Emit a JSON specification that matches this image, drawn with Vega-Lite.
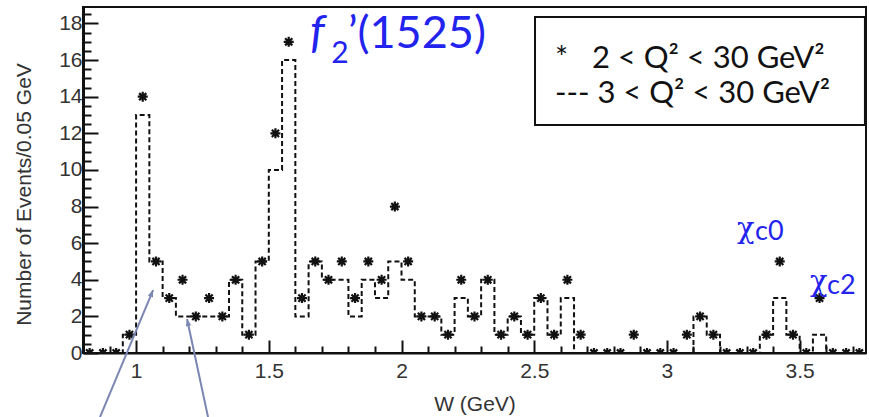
{
  "$schema": "https://vega.github.io/schema/vega-lite/v6.json",
  "width": 783,
  "height": 346,
  "autosize": {"type": "none"},
  "padding": {"left": 83, "top": 7, "right": 3, "bottom": 64},
  "background": "white",
  "config": {"view": {"stroke": "#111", "strokeWidth": 2}, "axis": {"grid": false}},
  "datasets": {
    "hist": [
      {"W": 0.825, "n2": 0, "n3": 0}, {"W": 0.875, "n2": 0, "n3": 0}, {"W": 0.925, "n2": 0, "n3": 0},
      {"W": 0.975, "n2": 1, "n3": 1}, {"W": 1.025, "n2": 14, "n3": 13}, {"W": 1.075, "n2": 5, "n3": 5},
      {"W": 1.125, "n2": 3, "n3": 3}, {"W": 1.175, "n2": 4, "n3": 2}, {"W": 1.225, "n2": 2, "n3": 2},
      {"W": 1.275, "n2": 3, "n3": 2}, {"W": 1.325, "n2": 2, "n3": 2}, {"W": 1.375, "n2": 4, "n3": 4},
      {"W": 1.425, "n2": 1, "n3": 1}, {"W": 1.475, "n2": 5, "n3": 5}, {"W": 1.525, "n2": 12, "n3": 10},
      {"W": 1.575, "n2": 17, "n3": 16}, {"W": 1.625, "n2": 3, "n3": 2}, {"W": 1.675, "n2": 5, "n3": 5},
      {"W": 1.725, "n2": 4, "n3": 4}, {"W": 1.775, "n2": 5, "n3": 4}, {"W": 1.825, "n2": 3, "n3": 2},
      {"W": 1.875, "n2": 5, "n3": 4}, {"W": 1.925, "n2": 4, "n3": 3}, {"W": 1.975, "n2": 8, "n3": 5},
      {"W": 2.025, "n2": 5, "n3": 4}, {"W": 2.075, "n2": 2, "n3": 2}, {"W": 2.125, "n2": 2, "n3": 2},
      {"W": 2.175, "n2": 1, "n3": 1}, {"W": 2.225, "n2": 4, "n3": 3}, {"W": 2.275, "n2": 2, "n3": 2},
      {"W": 2.325, "n2": 4, "n3": 4}, {"W": 2.375, "n2": 1, "n3": 1}, {"W": 2.425, "n2": 2, "n3": 2},
      {"W": 2.475, "n2": 1, "n3": 1}, {"W": 2.525, "n2": 3, "n3": 3}, {"W": 2.575, "n2": 1, "n3": 1},
      {"W": 2.625, "n2": 4, "n3": 3}, {"W": 2.675, "n2": 1, "n3": 0}, {"W": 2.725, "n2": 0, "n3": 0},
      {"W": 2.775, "n2": 0, "n3": 0}, {"W": 2.825, "n2": 0, "n3": 0}, {"W": 2.875, "n2": 1, "n3": 0},
      {"W": 2.925, "n2": 0, "n3": 0}, {"W": 2.975, "n2": 0, "n3": 0}, {"W": 3.025, "n2": 0, "n3": 0},
      {"W": 3.075, "n2": 1, "n3": 0}, {"W": 3.125, "n2": 2, "n3": 2}, {"W": 3.175, "n2": 1, "n3": 1},
      {"W": 3.225, "n2": 0, "n3": 0}, {"W": 3.275, "n2": 0, "n3": 0}, {"W": 3.325, "n2": 0, "n3": 0},
      {"W": 3.375, "n2": 1, "n3": 1}, {"W": 3.425, "n2": 5, "n3": 3}, {"W": 3.475, "n2": 1, "n3": 1},
      {"W": 3.525, "n2": 0, "n3": 0}, {"W": 3.575, "n2": 3, "n3": 1}, {"W": 3.625, "n2": 0, "n3": 0},
      {"W": 3.675, "n2": 0, "n3": 0}, {"W": 3.725, "n2": 0, "n3": 0}
    ],
    "arrows": [
      {"W": 0.864, "n": -3.5, "W2": 1.064, "n2": 3.44},
      {"W": 1.271, "n": -3.5, "W2": 1.192, "n2": 1.86}
    ],
    "head1": [{"W": 1.064, "n": 3.44}],
    "head2": [{"W": 1.192, "n": 1.86}],
    "box": [{"W": 2.503, "W2": 3.746, "n": 12.45, "n2": 18.35}],
    "legendText": [
      {"W": 2.578, "n": 15.57, "label": "*\u00a0\u00a0\u00a02 < Q² < 30 GeV²"},
      {"W": 2.578, "n": 13.65, "label": "--- 3 < Q² < 30 GeV²"}
    ],
    "fItalic": [{"W": 1.655, "n": 16.66, "label": "f"}],
    "fSub": [{"W": 1.735, "n": 15.85, "label": "2"}],
    "fRest": [{"W": 1.798, "n": 16.66, "label": "’(1525)"}],
    "chi": [{"W": 3.264, "n": 6.3, "label": "χ"}, {"W": 3.539, "n": 3.4, "label": "χ"}],
    "chiSub": [{"W": 3.332, "n": 6.17, "label": "c0"}, {"W": 3.603, "n": 3.22, "label": "c2"}]
  },
  "encoding": {
    "x": {"field": "W", "type": "quantitative", "scale": {"domain": [0.8, 3.75], "nice": false, "zero": false}, "axis": null},
    "y": {"field": "n", "type": "quantitative", "scale": {"domain": [0, 18.9], "nice": false, "zero": false}, "axis": null}
  },
  "layer": [
    {
      "data": {"name": "hist"},
      "mark": {"type": "line", "interpolate": "step", "color": "#111", "strokeWidth": 2, "strokeDash": [5, 3]},
      "encoding": {
        "x": {
          "field": "W", "type": "quantitative",
          "scale": {"domain": [0.8, 3.75], "nice": false, "zero": false},
          "axis": {
            "orient": "bottom",
            "values": [0.8, 0.9, 1, 1.1, 1.2, 1.3, 1.4, 1.5, 1.6, 1.7, 1.8, 1.9, 2, 2.1, 2.2, 2.3, 2.4, 2.5, 2.6, 2.7, 2.8, 2.9, 3, 3.1, 3.2, 3.3, 3.4, 3.5, 3.6, 3.7],
            "format": "~g",
            "labelExpr": "abs(datum.value*2-round(datum.value*2))<0.001 ? datum.label : ''",
            "tickSize": {"condition": {"test": "abs(datum.value*2-round(datum.value*2))<0.001", "value": -13}, "value": -7},
            "tickColor": "#111", "tickWidth": 2,
            "domainColor": "#111", "domainWidth": 2,
            "labelFont": "Liberation Sans", "labelFontSize": 21, "labelColor": "#333", "labelPadding": 20,
            "labelFlush": false, "labelOverlap": false,
            "title": "W (GeV)", "titleFont": "Liberation Sans", "titleFontSize": 21, "titleFontWeight": "normal", "titleColor": "#333",
            "titleBaseline": "alphabetic", "titleY": 57
          }
        },
        "y": {
          "field": "n3", "type": "quantitative",
          "scale": {"domain": [0, 18.9], "nice": false, "zero": false},
          "axis": {
            "orient": "left",
            "values": [0, 0.5, 1, 1.5, 2, 2.5, 3, 3.5, 4, 4.5, 5, 5.5, 6, 6.5, 7, 7.5, 8, 8.5, 9, 9.5, 10, 10.5, 11, 11.5, 12, 12.5, 13, 13.5, 14, 14.5, 15, 15.5, 16, 16.5, 17, 17.5, 18, 18.5],
            "format": "~g",
            "labelExpr": "datum.value % 2 === 0 ? datum.label : ''",
            "tickSize": {"condition": {"test": "datum.value % 2 === 0", "value": -15}, "value": -8},
            "tickColor": "#111", "tickWidth": 2,
            "domainColor": "#111", "domainWidth": 3,
            "labelFont": "Liberation Sans", "labelFontSize": 21, "labelColor": "#333", "labelPadding": 16,
            "labelFlush": false, "labelOverlap": false,
            "title": "Number of Events/0.05 GeV", "titleFont": "Liberation Sans", "titleFontSize": 21, "titleFontWeight": "normal", "titleColor": "#333",
            "titleX": -53, "titleY": 187, "titleAngle": 270, "titleBaseline": "alphabetic", "titleAlign": "center"
          }
        }
      }
    },
    {
      "data": {"name": "hist"},
      "mark": {"type": "point", "shape": "M-1,0L1,0M0,-1L0,1M-0.72,-0.72L0.72,0.72M-0.72,0.72L0.72,-0.72", "filled": false, "stroke": "#111", "strokeWidth": 2.2, "size": 100, "opacity": 1, "clip": true},
      "encoding": {"y": {"field": "n2", "type": "quantitative", "scale": {"domain": [0, 18.9], "nice": false, "zero": false}, "axis": null}}
    },
    {
      "data": {"name": "arrows"},
      "mark": {"type": "rule", "color": "#7b86b2", "strokeWidth": 2},
      "encoding": {"x2": {"field": "W2"}, "y2": {"field": "n2"}}
    },
    {
      "data": {"name": "head1"},
      "mark": {"type": "point", "shape": "M0,0L0.8,2L-0.8,2Z", "filled": true, "color": "#7b86b2", "opacity": 1, "size": 49, "angle": 22.6}
    },
    {
      "data": {"name": "head2"},
      "mark": {"type": "point", "shape": "M0,0L0.8,2L-0.8,2Z", "filled": true, "color": "#7b86b2", "opacity": 1, "size": 49, "angle": 347.9}
    },
    {
      "data": {"name": "box"},
      "mark": {"type": "rect", "fill": "white", "stroke": "#111", "strokeWidth": 2},
      "encoding": {"x2": {"field": "W2"}, "y2": {"field": "n2"}}
    },
    {
      "data": {"name": "legendText"},
      "mark": {"type": "text", "align": "left", "baseline": "alphabetic", "font": "Lato", "fontSize": 31, "color": "#111"},
      "encoding": {"text": {"field": "label"}}
    },
    {
      "data": {"name": "fItalic"},
      "mark": {"type": "text", "align": "left", "baseline": "alphabetic", "font": "Lato", "fontStyle": "italic", "fontSize": 46, "color": "#2323ee"},
      "encoding": {"text": {"field": "label"}}
    },
    {
      "data": {"name": "fSub"},
      "mark": {"type": "text", "align": "left", "baseline": "alphabetic", "font": "Lato", "fontSize": 30, "color": "#2323ee"},
      "encoding": {"text": {"field": "label"}}
    },
    {
      "data": {"name": "fRest"},
      "mark": {"type": "text", "align": "left", "baseline": "alphabetic", "font": "Lato", "fontSize": 45, "color": "#2323ee"},
      "encoding": {"text": {"field": "label"}}
    },
    {
      "data": {"name": "chi"},
      "mark": {"type": "text", "align": "left", "baseline": "alphabetic", "font": "DejaVu Serif", "fontSize": 29, "color": "#2323ee"},
      "encoding": {"text": {"field": "label"}}
    },
    {
      "data": {"name": "chiSub"},
      "mark": {"type": "text", "align": "left", "baseline": "alphabetic", "font": "Lato", "fontSize": 27, "color": "#2323ee"},
      "encoding": {"text": {"field": "label"}}
    }
  ],
  "resolve": {"axis": {"x": "independent", "y": "independent"}}
}
